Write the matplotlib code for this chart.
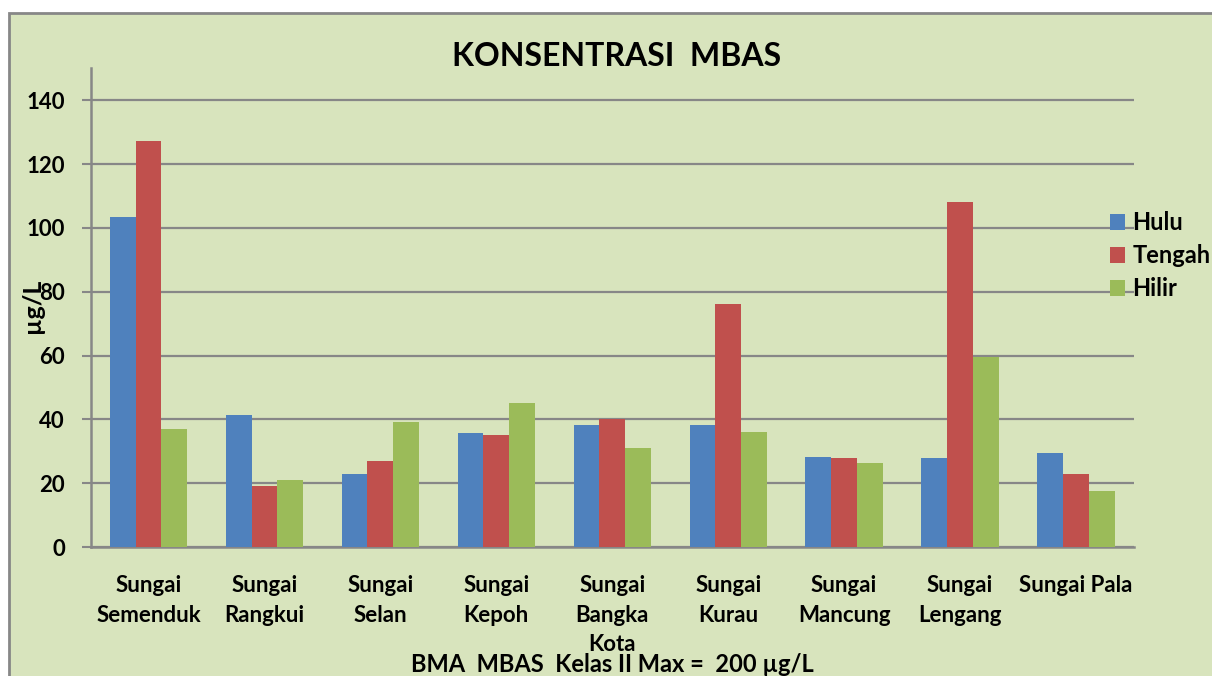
import matplotlib
matplotlib.use("Agg")
import matplotlib.pyplot as plt
from matplotlib.patches import Rectangle
import numpy as np

categories = ["Sungai\nSemenduk", "Sungai\nRangkui", "Sungai\nSelan", "Sungai\nKepoh",
              "Sungai\nBangka\nKota", "Sungai\nKurau", "Sungai\nMancung", "Sungai\nLengang",
              "Sungai Pala"]
hulu = [103.3, 41.3, 22.8, 35.6, 38.1, 38.1, 28.1, 27.8, 29.4]
tengah = [127.2, 19.1, 26.9, 35.0, 40.0, 76.1, 27.8, 108.0, 22.8]
hilir = [37.0, 21.0, 39.1, 45.0, 30.9, 36.0, 26.2, 59.5, 17.5]
series_names = ["Hulu", "Tengah", "Hilir"]
colors = ["#4F81BD", "#C0504D", "#9BBB59"]
yticks = [0, 20, 40, 60, 80, 100, 120, 140]

BG = "#D8E4BD"
GRID = "#878787"
FONT = "Lato"

plt.rcParams['font.family'] = [FONT, 'DejaVu Sans']
plt.rcParams['font.weight'] = 'bold'

W, H = 1212, 676
fig = plt.figure(figsize=(W / 100, H / 100), dpi=100, facecolor="white")

# outer chart frame
frame = Rectangle((9 / W, -0.1), 1.2, 1 - 13 / H + 0.1, transform=fig.transFigure,
                  facecolor=BG, edgecolor=GRID, linewidth=2, zorder=0)
fig.add_artist(frame)

left, right = 90.5 / W, 1134 / W
bottom, top = 1 - 547 / H, 1 - 68.5 / H
ax = fig.add_axes([left, bottom, right - left, top - bottom])
ax.set_facecolor(BG)
ax.patch.set_alpha(0)

x = np.arange(len(categories))
bw = 1 / 4.5
for i, (vals, name, c) in enumerate(zip([hulu, tengah, hilir], series_names, colors)):
    ax.bar(x + (i - 1) * bw, vals, width=bw, color=c, label=name, zorder=3, linewidth=0)

ax.set_xlim(-0.5, len(categories) - 0.5)
ax.set_ylim(0, 150)
ax.set_yticks(yticks)
ax.set_yticklabels([str(v) for v in yticks], fontsize=16, fontweight='bold')
ax.set_xticks(x)
ax.set_xticklabels(categories, fontsize=16, fontweight='bold', linespacing=1.5, va='top')
ax.tick_params(axis='x', length=0, pad=20.5)
ax.tick_params(axis='y', length=6.5, width=1.5, color=GRID, pad=12, direction='out')

ax.grid(axis='y', color=GRID, linewidth=1.6, zorder=1)
ax.set_axisbelow(True)
for s in ["top", "right"]:
    ax.spines[s].set_visible(False)
for s in ["left", "bottom"]:
    ax.spines[s].set_color(GRID)
    ax.spines[s].set_linewidth(1.8)

# title
fig.text(617 / W, 1 - 57 / H, "KONSENTRASI  MBAS", ha='center', va='center',
         fontsize=23, fontweight='bold', color='black')

# y label
fig.text(33 / W, 1 - 306 / H, "µg/L", rotation=90, ha='center', va='center',
         fontsize=18, fontweight='bold')

# bottom note
fig.text(612 / W, 1 - 665 / H, "BMA  MBAS  Kelas II Max =  200 µg/L", ha='center', va='center',
         fontsize=17, fontweight='bold')

leg = ax.legend(loc='upper left', bbox_to_anchor=(1110 / W, 1 - 211 / H),
                bbox_transform=fig.transFigure, frameon=False, fontsize=17,
                handlelength=0.65, handleheight=0.65, handletextpad=0.3,
                labelspacing=0.43, borderaxespad=0, borderpad=0)
for t in leg.get_texts():
    t.set_fontweight('bold')

fig.savefig("out.png", dpi=100, facecolor=fig.get_facecolor())
